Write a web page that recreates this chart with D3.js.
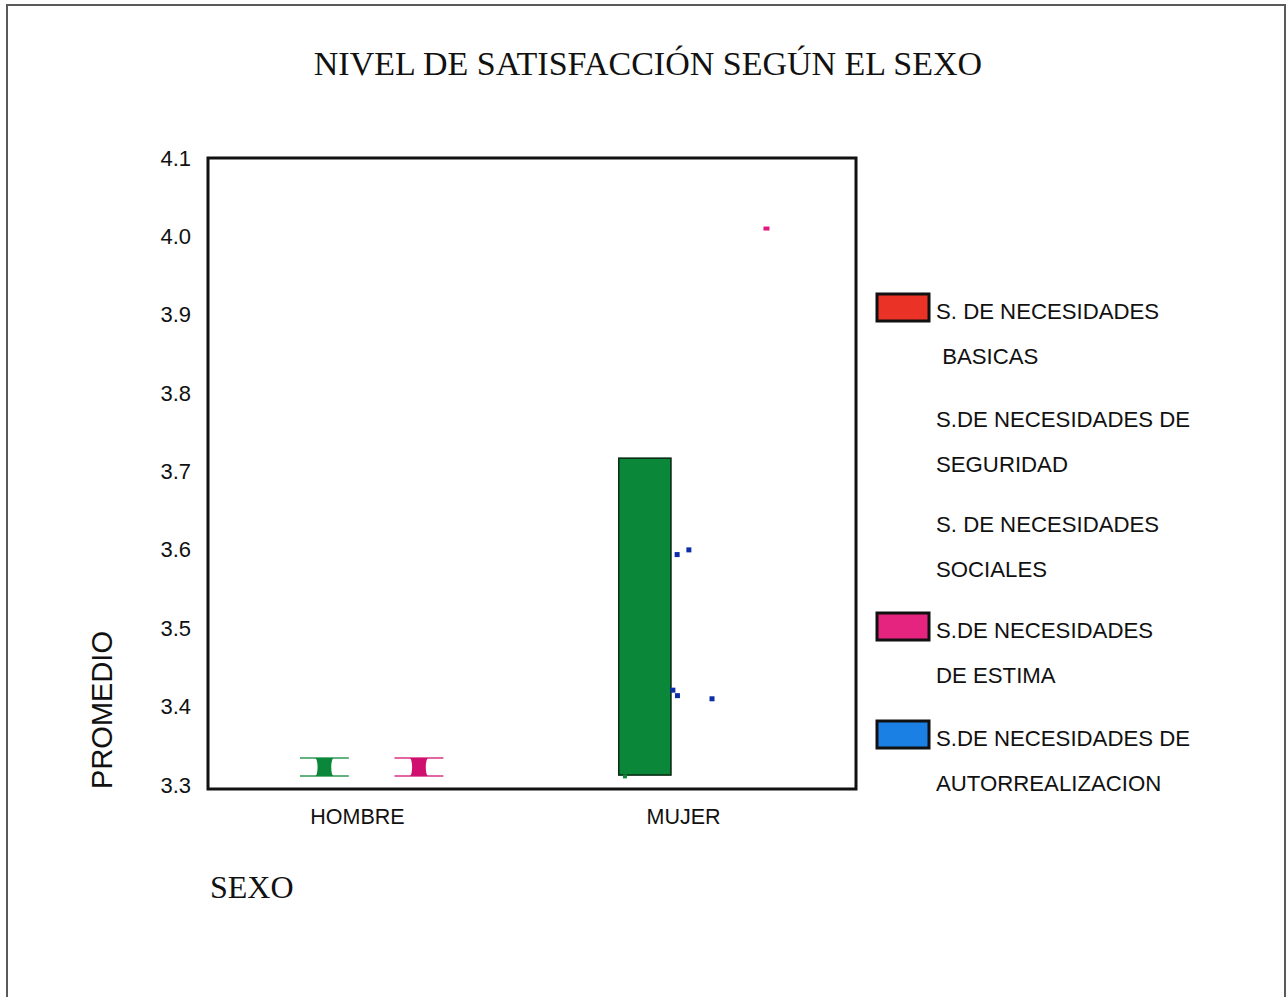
<!DOCTYPE html>
<html>
<head>
<meta charset="utf-8">
<script src="https://cdn.jsdelivr.net/npm/d3@7"></script>
<style>
  body { margin: 0; background: #fff; }
  svg { display: block; }
</style>
</head>
<body>
<svg id="chart" width="1286" height="997"></svg>
<script>
// ---- data ----
const categories = ["HOMBRE", "MUJER"];
const yTicks = [3.3, 3.4, 3.5, 3.6, 3.7, 3.8, 3.9, 4.0, 4.1];

const seriesLines = [
  ["S. DE NECESIDADES", " BASICAS"],
  ["S.DE NECESIDADES DE", "SEGURIDAD"],
  ["S. DE NECESIDADES", "SOCIALES"],
  ["S.DE NECESIDADES", "DE ESTIMA"],
  ["S.DE NECESIDADES DE", "AUTORREALIZACION"]
];
const legendColors = ["#ea3326", null, null, "#e5247f", "#1a80e4"];
const markColors = ["#ea3326", null, "#0b873a", "#d0106f", "#0c2ea6"];

// position along the SEXO axis (category units) and the value range of each mark
const capPos = [-0.100, 0.190];
const capSeries = [2, 3];
const capLow = [3.3115, 3.3115];
const capHigh = [3.3344, 3.3344];

const barPos = [0.883];
const barLow = [3.3127];
const barHigh = [3.717];

const estimaPos = [1.256];
const estimaVal = [4.010];
const autoPos = [0.982, 1.018, 0.969, 0.983, 1.089];
const autoVal = [3.594, 3.600, 3.421, 3.414, 3.410];
const socialesPos = [0.822];
const socialesVal = [3.311];

// ---- layout ----
const svg = d3.select("#chart");
const frame = { left: 208, right: 856, top: 158, bottom: 789 };

const y = d3.scaleLinear().domain([3.3, 4.1]).range([785, 158]);
const x = d3.scaleLinear().domain([0, 1]).range([357, 683]);

// page border
svg.append("path")
  .attr("d", "M7,1000 V5 H1285 V1000")
  .attr("fill", "none").attr("stroke", "#5a5a5a").attr("stroke-width", 2);

// title
svg.append("text")
  .attr("x", 648).attr("y", 75)
  .attr("text-anchor", "middle")
  .attr("font-family", "Liberation Serif, serif")
  .attr("font-size", 34)
  .attr("fill", "#111")
  .text("NIVEL DE SATISFACCIÓN SEGÚN EL SEXO");

// y axis labels
const yAxis = d3.axisLeft(y).tickValues(yTicks).tickFormat(d3.format(".1f")).tickSize(0).tickPadding(0);
const gy = svg.append("g").attr("transform", "translate(191,0)").call(yAxis);
gy.select(".domain").remove();
gy.selectAll("text")
  .attr("font-family", "Liberation Sans, Arial, sans-serif")
  .attr("font-size", 22).attr("fill", "#111");

// x axis labels
const xAxis = d3.axisBottom(x).tickValues([0, 1]).tickFormat(i => categories[i]).tickSize(0).tickPadding(0);
const gx = svg.append("g").attr("transform", "translate(0,809)").call(xAxis);
gx.select(".domain").remove();
gx.selectAll("text")
  .attr("font-family", "Liberation Sans, Arial, sans-serif")
  .attr("font-size", 21.5).attr("fill", "#111");

// axis titles
svg.append("text")
  .attr("transform", "translate(112,710) rotate(-90)")
  .attr("text-anchor", "middle")
  .attr("font-family", "Liberation Sans, Arial, sans-serif")
  .attr("font-size", 29).attr("fill", "#111")
  .text("PROMEDIO");

svg.append("text")
  .attr("x", 210).attr("y", 898)
  .attr("font-family", "Liberation Serif, serif")
  .attr("font-size", 32).attr("fill", "#111")
  .text("SEXO");

// ---- marks ----
const unit = x(1) - x(0);
const capW = 0.150 * unit;
const capCore = 0.042 * unit;
const barW = 0.160 * unit;

// small I-shaped bars
capPos.forEach((p, i) => {
  const c = markColors[capSeries[i]];
  const g = svg.append("g");
  const cx = x(p), y0 = y(capLow[i]), y1 = y(capHigh[i]);
  const l = cx - capCore / 2, r = cx + capCore / 2, m = (y0 + y1) / 2;
  g.append("path")
    .attr("d", `M${l - 2},${y1} Q${l},${y1 + 2} ${l},${m} Q${l},${y0 - 2} ${l - 2},${y0}
                H${r + 2} Q${r},${y0 - 2} ${r},${m} Q${r},${y1 + 2} ${r + 2},${y1} Z`)
    .attr("fill", c);
  [y0, y1].forEach(yy => {
    g.append("line")
      .attr("x1", cx - capW / 2).attr("x2", cx + capW / 2)
      .attr("y1", yy).attr("y2", yy)
      .attr("stroke", c).attr("stroke-width", 1.6).attr("opacity", 0.85);
  });
});

// tall bar
svg.selectAll("rect.bar").data(barPos).join("rect")
  .attr("class", "bar")
  .attr("x", (d) => x(d) - barW / 2)
  .attr("width", barW)
  .attr("y", (d, i) => y(barHigh[i]))
  .attr("height", (d, i) => y(barLow[i]) - y(barHigh[i]))
  .attr("fill", "#0b873a")
  .attr("stroke", "#0a2e16").attr("stroke-width", 1.6);

// scattered points
function points(pos, vals, color, w, h) {
  svg.append("g").selectAll("rect").data(pos).join("rect")
    .attr("x", d => x(d) - w / 2)
    .attr("y", (d, i) => y(vals[i]) - h / 2)
    .attr("width", w).attr("height", h)
    .attr("fill", color);
}
points(estimaPos, estimaVal, "#e0197f", 6, 4);
points(autoPos, autoVal, markColors[4], 5, 5);
points(socialesPos, socialesVal, markColors[2], 4, 4);

// plot frame
svg.append("rect")
  .attr("x", frame.left).attr("y", frame.top)
  .attr("width", frame.right - frame.left).attr("height", frame.bottom - frame.top)
  .attr("fill", "none").attr("stroke", "#111").attr("stroke-width", 3);

// ---- legend ----
const legendTop = [311, 419, 524, 630, 738];
const leg = svg.append("g");
seriesLines.forEach((lines, i) => {
  if (legendColors[i]) {
    leg.append("rect")
      .attr("x", 877).attr("y", legendTop[i] - 17)
      .attr("width", 52).attr("height", 27)
      .attr("fill", legendColors[i])
      .attr("stroke", "#111").attr("stroke-width", 3);
  }
  lines.forEach((t, j) => {
    leg.append("text")
      .attr("x", 936).attr("y", legendTop[i] + 8 + j * 45)
      .attr("xml:space", "preserve")
      .style("white-space", "pre")
      .attr("font-family", "Liberation Sans, Arial, sans-serif")
      .attr("font-size", 22.2).attr("fill", "#111")
      .text(t);
  });
});
</script>
</body>
</html>
